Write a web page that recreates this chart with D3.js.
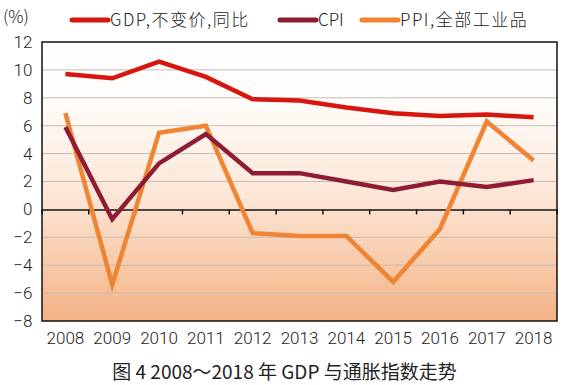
<!DOCTYPE html>
<html>
<head>
<meta charset="utf-8">
<script src="https://cdn.jsdelivr.net/npm/d3@7"></script>
<style>
  body { margin: 0; background: #fff; }
  text { font-family: "Noto Sans CJK SC", "Noto Sans", sans-serif; fill: #222; }
  .num { font-family: "Roboto", "Noto Sans", sans-serif; font-weight: 300; }
</style>
</head>
<body>
<div id="chart"></div>
<script>
// Data
const years = ["2008","2009","2010","2011","2012","2013","2014","2015","2016","2017","2018"];
const gdp = [9.7, 9.4, 10.6, 9.5, 7.9, 7.8, 7.3, 6.9, 6.7, 6.8, 6.6];
const cpi = [5.9, -0.7, 3.3, 5.4, 2.6, 2.6, 2.0, 1.4, 2.0, 1.6, 2.1];
const ppi = [6.9, -5.4, 5.5, 6.0, -1.7, -1.9, -1.9, -5.2, -1.4, 6.3, 3.5];
const yTicks = [12, 10, 8, 6, 4, 2, 0, -2, -4, -6, -8];
const seriesNames = ["GDP,不变价,同比", "CPI", "PPI,全部工业品"];
const colors = ["#d8150f", "#8e1d33", "#ef8433"];

const W = 575, H = 385;
const plot = {left: 42, right: 557, top: 42, bottom: 321};

let svg = d3.select("#chart").append("svg")
  .attr("width", W)
  .attr("height", H);

// Scales
let x = d3.scaleBand().domain(years).range([plot.left, plot.right]);
let y = d3.scaleLinear().domain([-8, 12]).range([plot.bottom, plot.top]);

// Background gradient
let grad = svg.append("defs").append("linearGradient")
  .attr("id", "bg")
  .attr("x1", 0).attr("y1", 0).attr("x2", 0).attr("y2", 1);
grad.append("stop").attr("offset", "0%").attr("stop-color", "#ffffff");
grad.append("stop").attr("offset", "20%").attr("stop-color", "#fffdfb");
grad.append("stop").attr("offset", "55%").attr("stop-color", "#fce6d6");
grad.append("stop").attr("offset", "100%").attr("stop-color", "#f4b284");

svg.append("rect")
  .attr("x", plot.left).attr("y", plot.top)
  .attr("width", plot.right - plot.left)
  .attr("height", plot.bottom - plot.top)
  .attr("fill", "url(#bg)");

// Gridlines
svg.append("g")
  .selectAll("line")
  .data(yTicks.filter(d => d != 0 && d != 12 && d != -8))
  .enter()
  .append("line")
    .attr("x1", plot.left).attr("x2", plot.right)
    .attr("y1", d => y(d)).attr("y2", d => y(d))
    .attr("stroke", "#c4bcb6")
    .attr("stroke-width", 1);

// Zero axis with ticks between categories
svg.append("g")
  .attr("transform", "translate(0," + y(0) + ")")
  .call(d3.axisBottom(x).tickSize(0).tickFormat(""))
  .call(g => g.select(".domain").attr("stroke", "#111").attr("stroke-width", 1.5));

svg.append("g")
  .selectAll("line")
  .data(years.map(d => x(d)).concat([plot.right]))
  .enter()
  .append("line")
    .attr("x1", d => d).attr("x2", d => d)
    .attr("y1", y(0)).attr("y2", y(0) + 5)
    .attr("stroke", "#111")
    .attr("stroke-width", 1.5);

// Frame
svg.append("rect")
  .attr("x", plot.left).attr("y", plot.top)
  .attr("width", plot.right - plot.left)
  .attr("height", plot.bottom - plot.top)
  .attr("fill", "none")
  .attr("stroke", "#111")
  .attr("stroke-width", 1.5);

// Y axis labels
svg.append("g")
  .attr("transform", "translate(" + (plot.left - 16) + ",0)")
  .call(d3.axisLeft(y).tickValues(yTicks).tickSize(0).tickFormat(d => d < 0 ? "\u2212" + (-d) : d))
  .call(g => g.select(".domain").remove())
  .selectAll("text")
    .attr("class", "num")
    .attr("font-size", "17px")
    .attr("fill", "#222")
    .attr("dx", "0.55em");

// X axis labels
svg.append("g")
  .attr("transform", "translate(0," + (plot.bottom + 8) + ")")
  .call(d3.axisBottom(x).tickSize(0))
  .call(g => g.select(".domain").remove())
  .selectAll("text")
    .attr("class", "num")
    .attr("font-size", "17px")
    .attr("fill", "#222");

// Lines
let line = d3.line()
  .x((d, i) => x(years[i]) + x.bandwidth() / 2)
  .y(d => y(d));

[ppi, cpi, gdp].forEach((s, k) => {
  svg.append("path")
    .datum(s)
    .attr("d", line)
    .attr("fill", "none")
    .attr("stroke", colors[2 - k])
    .attr("stroke-width", 4.5)
    .attr("stroke-linejoin", "miter");
});

// Unit label
svg.append("text")
  .attr("x", 3).attr("y", 23)
  .attr("font-size", "17px")
  .attr("font-weight", 300)
  .text("(%)");

// Legend
const legendX = [72, 280, 362];
seriesNames.forEach((name, i) => {
  svg.append("line")
    .attr("x1", legendX[i]).attr("x2", legendX[i] + 36)
    .attr("y1", 20).attr("y2", 20)
    .attr("stroke", colors[i])
    .attr("stroke-width", 5)
    .attr("stroke-linecap", "round");
  svg.append("text")
    .attr("x", legendX[i] + 38).attr("y", 26)
    .attr("font-size", "17px")
    .attr("font-weight", 300)
    .attr("letter-spacing", i == 1 ? 0 : 1.5)
    .text(name);
});

// Caption
svg.append("text")
  .attr("x", W / 2 - 3).attr("y", 379)
  .attr("text-anchor", "middle")
  .attr("font-size", "19px")
  .attr("fill", "#111")
  .text("图 4 2008～2018 年 GDP 与通胀指数走势");
</script>
</body>
</html>
